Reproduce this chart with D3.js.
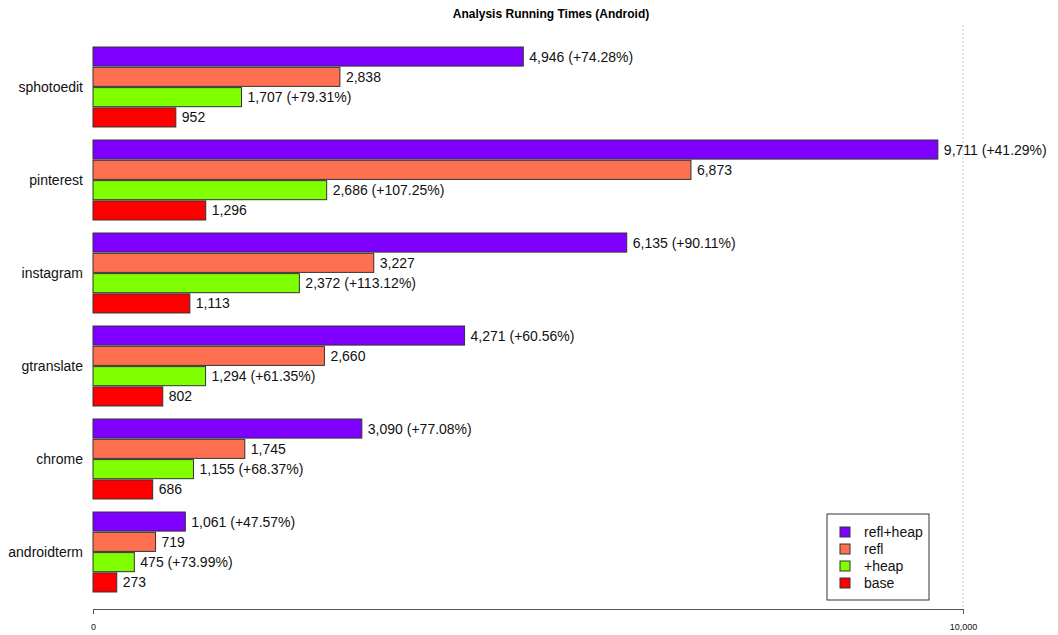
<!DOCTYPE html>
<html>
<head>
<meta charset="utf-8">
<script src="https://d3js.org/d3.v7.min.js"></script>
<style>
  body { margin: 0; background: #fff; }
  text { font-family: "Liberation Sans", Arial, sans-serif; }
</style>
</head>
<body>
<div id="chart"></div>
<script>

// apps from top to bottom
var apps = ["sphotoedit", "pinterest", "instagram", "gtranslate", "chrome", "androidterm"];
var series = ["refl+heap", "refl", "+heap", "base"];
var colors = ["#7f00ff", "#ff7050", "#7fff00", "#ff0000"];

var reflHeap = [4946, 9711, 6135, 4271, 3090, 1061];
var refl     = [2838, 6873, 3227, 2660, 1745, 719];
var heap     = [1707, 2686, 2372, 1294, 1155, 475];
var base     = [952, 1296, 1113, 802, 686, 273];

var xTicks = [0, 10000];

var width = 1058, height = 635;

var svg = d3.select("#chart").append("svg")
    .attr("width", width)
    .attr("height", height);

// Scales
var x = d3.scaleLinear()
    .domain([0, 10000])
    .range([93, 963]);

var y0 = d3.scaleBand()
    .domain(apps)
    .range([40.5, 598.5])
    .paddingInner(0.14)
    .paddingOuter(0.07);

var y1 = d3.scaleBand()
    .domain(series)
    .range([0, y0.bandwidth()])
    .paddingInner(0.06);

var color = d3.scaleOrdinal().domain(series).range(colors);

var fmt = d3.format(",");

// build rows
var rows = [];
apps.forEach(function(app, i){
    var vals = [reflHeap[i], refl[i], heap[i], base[i]];
    series.forEach(function(s, j){
        var label = fmt(vals[j]);
        if (s == "refl+heap") label += " (+" + ((reflHeap[i] / refl[i] - 1) * 100).toFixed(2) + "%)";
        if (s == "+heap") label += " (+" + ((heap[i] / base[i] - 1) * 100).toFixed(2) + "%)";
        rows.push({app: app, series: s, value: vals[j], label: label});
    });
});

// Title
svg.append("text")
    .attr("x", 551)
    .attr("y", 18)
    .attr("text-anchor", "middle")
    .style("font-size", "12px")
    .style("font-weight", "bold")
    .text("Analysis Running Times (Android)");

// dotted gridline at 10,000
svg.append("line")
    .attr("x1", x(10000)).attr("x2", x(10000))
    .attr("y1", 25).attr("y2", 609)
    .attr("stroke", "#c8c8c8")
    .attr("stroke-dasharray", "2,2");

// Bars
svg.selectAll(".bar")
    .data(rows)
    .enter().append("rect")
    .attr("class", "bar")
    .attr("x", x(0))
    .attr("y", function(d){ return y0(d.app) + y1(d.series); })
    .attr("width", function(d){ return x(d.value) - x(0); })
    .attr("height", y1.bandwidth())
    .attr("fill", function(d){ return color(d.series); })
    .attr("stroke", "#333")
    .attr("stroke-width", 1);

// Value labels
svg.selectAll(".val")
    .data(rows)
    .enter().append("text")
    .attr("class", "val")
    .attr("x", function(d){ return x(d.value) + 6; })
    .attr("y", function(d){ return y0(d.app) + y1(d.series) + y1.bandwidth() / 2; })
    .attr("dy", "0.36em")
    .style("font-size", "14px")
    .attr("fill", "#111")
    .text(function(d){ return d.label; });

// Category labels
svg.selectAll(".cat")
    .data(apps)
    .enter().append("text")
    .attr("class", "cat")
    .attr("x", 83)
    .attr("y", function(d){ return y0(d) + y0.bandwidth() / 2; })
    .attr("dy", "0.36em")
    .attr("text-anchor", "end")
    .style("font-size", "14px")
    .attr("fill", "#111")
    .text(function(d){ return d; });

// X axis
var xAxis = d3.axisBottom(x)
    .tickValues(xTicks)
    .tickSize(5)
    .tickPadding(10)
    .tickFormat(fmt);

var gx = svg.append("g")
    .attr("class", "x-axis axis")
    .attr("transform", "translate(0,609)")
    .call(xAxis);
gx.select(".domain").attr("stroke", "#555");
gx.selectAll(".tick line").attr("stroke", "#555");
gx.selectAll("text")
    .style("font-size", "9px")
    .style("font-family", "Liberation Sans, Arial, sans-serif")
    .attr("fill", "#111");

// Legend
var legend = svg.append("g")
    .attr("transform", "translate(827,514)");

legend.append("rect")
    .attr("width", 102)
    .attr("height", 86)
    .attr("fill", "#fff")
    .attr("stroke", "#333");

var items = legend.selectAll(".item")
    .data(series)
    .enter().append("g")
    .attr("class", "item")
    .attr("transform", function(d, i){ return "translate(13," + (18 + i * 17) + ")"; });

items.append("rect")
    .attr("x", 0)
    .attr("y", -5)
    .attr("width", 10)
    .attr("height", 10)
    .attr("fill", function(d){ return color(d); })
    .attr("stroke", "#333");

items.append("text")
    .attr("x", 24)
    .attr("y", 0)
    .attr("dy", "0.36em")
    .style("font-size", "14px")
    .attr("fill", "#111")
    .text(function(d){ return d; });

</script>
</body>
</html>
